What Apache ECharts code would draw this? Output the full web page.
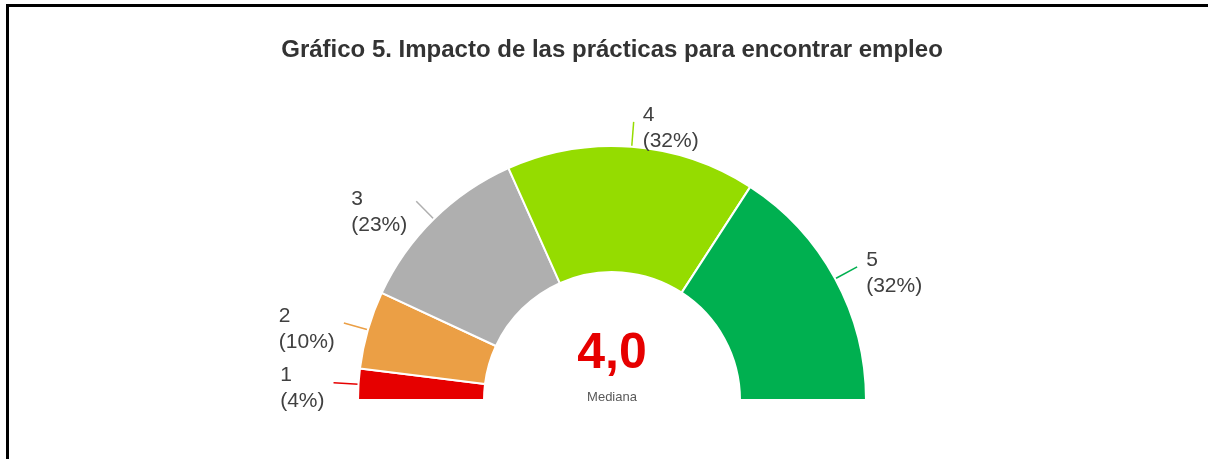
<!DOCTYPE html>
<html>
<head>
<meta charset="utf-8">
<title>Gráfico 5</title>
<script src="https://cdn.jsdelivr.net/npm/echarts@6/dist/echarts.min.js"></script>
<style>
  html, body {
    margin: 0;
    padding: 0;
    width: 1208px;
    height: 459px;
    overflow: hidden;
    background: #fff;
  }
  /* el gráfico original está algo desplazado a la derecha: centro en x=612 */
  #grafico {
    position: absolute;
    left: 0;
    top: 0;
    width: 1224px;
    height: 459px;
  }
  .marco {
    position: absolute;
    left: 6px;
    top: 4px;
    width: 1300px;
    height: 500px;
    border-top: 3px solid #000;
    border-left: 3px solid #000;
    pointer-events: none;
  }
</style>
</head>
<body>
<div id="grafico"></div>
<div class="marco"></div>
<script>
// datos del gráfico
const titulo = 'Gráfico 5. Impacto de las prácticas para encontrar empleo';
const categorias = ['1', '2', '3', '4', '5'];
const porcentajes = [4, 10, 23, 32, 32];
const colores = ['#e60000', '#eb9f45', '#afafaf', '#95dc00', '#00b050'];
const mediana = 4.0;

const fuente = '"Liberation Sans", Arial, sans-serif';

const chart = echarts.init(document.getElementById('grafico'));

const option = {
  animation: false,
  title: {
    text: titulo,
    left: 'center',
    top: 33,
    textStyle: {
      fontFamily: fuente,
      fontSize: 24,
      fontWeight: 'bold',
      color: '#333333'
    }
  },
  graphic: [
    {
      type: 'text',
      left: 'center',
      top: 329,
      style: {
        text: mediana.toFixed(1).replace('.', ','),
        font: 'bold 50px ' + fuente,
        fill: '#e60000'
      }
    },
    {
      type: 'text',
      left: 'center',
      top: 391,
      style: {
        text: 'Mediana',
        font: '13px ' + fuente,
        fill: '#595959'
      }
    }
  ],
  series: [
    {
      type: 'pie',
      center: ['50%', 400],
      radius: [128, 254],
      startAngle: 180,
      endAngle: 0,
      clockwise: true,
      avoidLabelOverlap: false,
      itemStyle: {
        borderColor: '#fff',
        borderWidth: 2
      },
      label: {
        show: true,
        position: 'outside',
        distanceToLabelLine: 9,
        padding: [12, 0, 0, 0],
        formatter: '{t|{b}}\n{t|({c}%)}',
        rich: {
          t: {
            align: 'left',
            fontFamily: fuente,
            fontSize: 21,
            lineHeight: 26,
            color: '#404040'
          }
        }
      },
      labelLine: {
        show: true,
        length: 25,
        length2: 0,
        lineStyle: { width: 1.5 }
      },
      emphasis: { disabled: true },
      data: categorias.map((c, i) => ({
        name: c,
        value: porcentajes[i],
        itemStyle: { color: colores[i] },
        // la etiqueta "3" aparece algo más abajo en el original
        label: i === 2 ? { padding: [22, 0, 0, 0] } : undefined
      }))
    }
  ]
};

chart.setOption(option);
</script>
</body>
</html>
